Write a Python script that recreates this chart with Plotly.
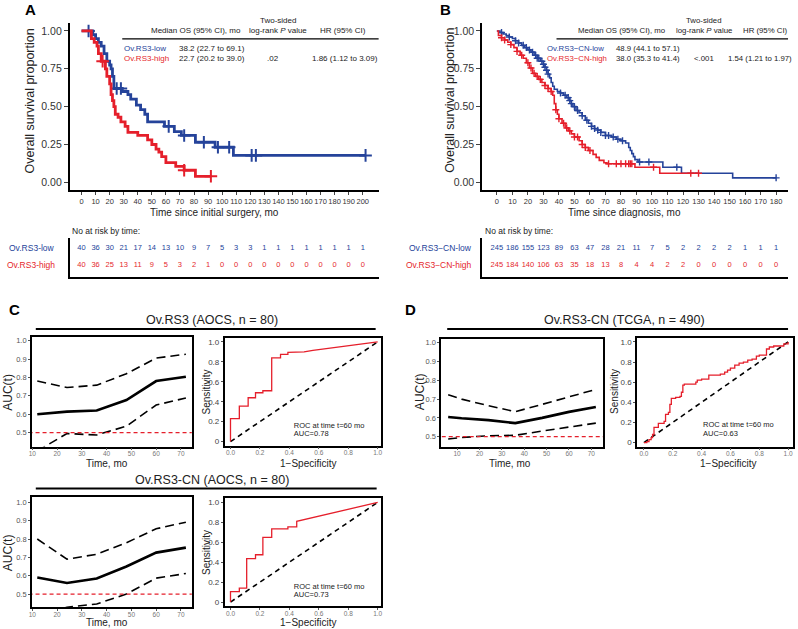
import plotly.graph_objects as go

W, H = 798, 629
BLUE = "#25439a"
RED = "#e51f2b"
FONT = "Liberation Sans, Arial, sans-serif"

# ---- Panel A: Kaplan-Meier, Ov.RS3 (AOCS) ----
A_LOW_T = [0, 8, 10, 12, 14, 16, 18, 20, 21, 22, 23, 29, 33, 35, 39, 42, 45, 47, 59, 66, 71, 81, 95, 108, 202]
A_LOW_S = [1.0, 0.975, 0.95, 0.925, 0.90, 0.85, 0.80, 0.775, 0.75, 0.70, 0.62, 0.60, 0.58, 0.55, 0.51,
           0.48, 0.45, 0.40, 0.37, 0.335, 0.31, 0.265, 0.232, 0.178, 0.178]
A_LOW_CENSOR = [5, 25, 28, 62, 73, 87, 97, 105, 121, 124, 202]
A_HIGH_T = [0, 7, 9, 11, 12, 14, 17, 18, 20, 21, 22, 23, 24, 26, 28, 31, 33, 40, 47, 50, 53, 55, 57, 60,
            67, 73, 81, 92]
A_HIGH_S = [1.0, 0.95, 0.925, 0.90, 0.85, 0.80, 0.75, 0.70, 0.65, 0.58, 0.54, 0.50, 0.45, 0.43, 0.40,
            0.37, 0.33, 0.31, 0.28, 0.25, 0.22, 0.20, 0.17, 0.13, 0.105, 0.08, 0.04, 0.04]
A_HIGH_CENSOR = [15, 73, 92]
A_RISK_T = list(range(0, 201, 10))
A_RISK_LOW = [40, 36, 30, 21, 17, 14, 13, 10, 9, 7, 5, 3, 3, 1, 1, 1, 1, 1, 1, 1, 1]
A_RISK_HIGH = [40, 36, 25, 13, 11, 9, 5, 3, 2, 1, 0, 0, 0, 0, 0, 0, 0, 0, 0, 0, 0]

# ---- Panel B: Kaplan-Meier, Ov.RS3-CN (TCGA) ----
B_LOW_T = [0, 2, 4, 6, 8, 10, 12, 14, 16, 18, 20, 22, 24, 26, 28, 30, 31, 32, 33, 34, 35, 36, 37, 39,
           41, 43, 45, 47, 48, 49, 51, 53, 55, 57, 59, 61, 63, 65, 67, 70, 74, 77, 80, 83, 85, 86, 87,
           88, 89, 91, 107, 119, 152, 180]
B_LOW_S = [1.0, 0.99, 0.98, 0.97, 0.96, 0.95, 0.935, 0.92, 0.905, 0.89, 0.875, 0.86, 0.84, 0.82, 0.80,
           0.78, 0.76, 0.74, 0.715, 0.69, 0.66, 0.635, 0.615, 0.60, 0.59, 0.575, 0.56, 0.54, 0.52, 0.50,
           0.475, 0.46, 0.44, 0.41, 0.39, 0.37, 0.355, 0.345, 0.33, 0.31, 0.30, 0.285, 0.275, 0.26,
           0.23, 0.21, 0.19, 0.17, 0.15, 0.135, 0.10, 0.06, 0.03, 0.03]
B_LOW_CENSOR = [3, 8, 12, 14, 17, 19, 21, 23, 25, 26, 27, 29, 30, 31, 32, 33, 41, 44, 46, 47, 48, 50,
                52, 55, 58, 61, 63, 65, 67, 70, 72, 75, 78, 81, 92, 98, 116, 180]
B_HIGH_T = [0, 1, 3, 5, 7, 9, 11, 13, 15, 17, 19, 21, 23, 25, 27, 29, 31, 33, 35, 36, 37, 38, 39, 40,
            42, 44, 46, 48, 50, 53, 55, 57, 59, 62, 64, 66, 69, 71, 89, 105, 130]
B_HIGH_S = [1.0, 0.97, 0.955, 0.94, 0.925, 0.91, 0.89, 0.865, 0.84, 0.82, 0.79, 0.755, 0.72, 0.70,
            0.68, 0.66, 0.64, 0.62, 0.60, 0.575, 0.52, 0.48, 0.45, 0.42, 0.39, 0.36, 0.34, 0.32, 0.30,
            0.275, 0.25, 0.23, 0.21, 0.185, 0.165, 0.145, 0.13, 0.123, 0.10, 0.06, 0.06]
B_HIGH_CENSOR = [3, 5, 9, 13, 16, 20, 22, 24, 26, 28, 31, 33, 35, 38, 40, 43, 45, 47, 50, 52, 55, 57,
                 60, 72, 77, 80, 83, 85, 86, 87, 101, 125, 130]
B_RISK_T = list(range(0, 181, 10))
B_RISK_LOW = [245, 186, 155, 123, 89, 63, 47, 28, 21, 11, 7, 5, 2, 2, 2, 2, 1, 1, 1]
B_RISK_HIGH = [245, 184, 140, 106, 63, 35, 18, 13, 8, 4, 4, 2, 2, 0, 0, 0, 0, 0, 0]

# ---- Panels C/D: time-dependent AUC and ROC at 60 mo ----
C1_T = [12, 24, 36, 48, 60, 72]
C1_AUC = [0.60, 0.614, 0.62, 0.677, 0.78, 0.804]
C1_UP = [0.78, 0.745, 0.758, 0.82, 0.905, 0.926]
C1_LO = [0.40, 0.495, 0.487, 0.535, 0.65, 0.688]
C1_FPR = [0, 0, 0.06, 0.06, 0.12, 0.12, 0.17, 0.17, 0.22, 0.22, 0.28, 0.28, 0.34, 0.34, 0.39, 0.39, 0.5, 0.56, 1.0]
C1_TPR = [0, 0.23, 0.23, 0.355, 0.355, 0.44, 0.44, 0.49, 0.49, 0.51, 0.51, 0.84, 0.84, 0.875, 0.875, 0.895, 0.90, 0.915, 1.0]

C2_T = [12, 24, 36, 48, 60, 72]
C2_AUC = [0.59, 0.56, 0.585, 0.65, 0.726, 0.753]
C2_UP = [0.80, 0.69, 0.717, 0.78, 0.856, 0.892]
C2_LO = [0.38, 0.428, 0.446, 0.50, 0.587, 0.612]
C2_FPR = [0, 0, 0.06, 0.06, 0.11, 0.11, 0.17, 0.17, 0.22, 0.22, 0.28, 0.28, 0.39, 0.39, 0.45, 0.45, 1.0]
C2_TPR = [0, 0.105, 0.105, 0.14, 0.14, 0.435, 0.435, 0.475, 0.475, 0.65, 0.65, 0.735, 0.735, 0.755, 0.755, 0.81, 1.0]

D_T = [6, 12, 24, 36, 48, 60, 72]
D_AUC = [0.605, 0.598, 0.588, 0.572, 0.60, 0.632, 0.658]
D_UP = [0.723, 0.70, 0.665, 0.633, 0.672, 0.712, 0.752]
D_LO = [0.487, 0.495, 0.505, 0.507, 0.53, 0.552, 0.572]
D_FPR = [0, 0.02, 0.035, 0.05, 0.06, 0.07, 0.1, 0.14, 0.15, 0.17, 0.18, 0.19, 0.22, 0.25, 0.26, 0.27, 0.28,
         0.33, 0.36, 0.37, 0.40, 0.44, 0.45, 0.50, 0.53, 0.56, 0.58, 0.60, 0.63, 0.66, 0.69, 0.72, 0.75,
         0.78, 0.80, 0.84, 0.85, 0.87, 0.90, 0.95, 0.97, 1.0]
D_TPR = [0, 0.01, 0.03, 0.05, 0.08, 0.15, 0.19, 0.21, 0.28, 0.30, 0.38, 0.44, 0.45, 0.46, 0.50, 0.57, 0.58,
         0.58, 0.60, 0.62, 0.63, 0.63, 0.67, 0.67, 0.68, 0.70, 0.72, 0.74, 0.77, 0.79, 0.80, 0.82, 0.83,
         0.86, 0.87, 0.87, 0.93, 0.95, 0.96, 0.96, 0.98, 1.0]


def xd(left, right):
    return [left / W, right / W]


def yd(top, bottom):
    return [1 - bottom / H, 1 - top / H]


def surv_at(ts, ss, t):
    val = ss[0]
    for ti, si in zip(ts, ss):
        if ti <= t:
            val = si
    return val


fig = go.Figure()
annotations = []
shapes = []


def note(x, y, text, size=8, color="black", xanchor="center", yanchor="middle", angle=0, bold=False):
    annotations.append(dict(
        x=x / W, y=1 - y / H, xref="paper", yref="paper", text=f"<b>{text}</b>" if bold else text,
        showarrow=False, xanchor=xanchor, yanchor=yanchor, textangle=angle,
        font=dict(size=size, color=color, family=FONT),
    ))


def hline(x0, x1, y, width=1.2):
    shapes.append(dict(type="line", xref="paper", yref="paper", x0=x0 / W, x1=x1 / W,
                       y0=1 - y / H, y1=1 - y / H, line=dict(color="black", width=width)))


def km(ax, ts, ss, censor, color, width, msize, mwidth):
    xa, ya = ("x", "y") if ax == 1 else (f"x{ax}", f"y{ax}")
    fig.add_trace(go.Scatter(x=ts, y=ss, mode="lines", line=dict(color=color, width=width, shape="hv"),
                             xaxis=xa, yaxis=ya, showlegend=False, hoverinfo="skip"))
    fig.add_trace(go.Scatter(x=censor, y=[surv_at(ts, ss, t) for t in censor], mode="markers",
                             marker=dict(symbol="cross-thin", size=msize, line=dict(color=color, width=mwidth)),
                             xaxis=xa, yaxis=ya, showlegend=False, hoverinfo="skip"))


def risk(ax, ts, low, high):
    for vals, yv, color in ((low, 0.74, BLUE), (high, 0.31, RED)):
        fig.add_trace(go.Scatter(x=ts, y=[yv] * len(ts), text=[str(v) for v in vals], mode="text",
                                 textfont=dict(size=7.5, color=color, family=FONT),
                                 xaxis=f"x{ax}", yaxis=f"y{ax}", showlegend=False, hoverinfo="skip"))


def auc_plot(ax, t, auc, up, lo):
    for vals, w, dash in ((auc, 2.6, "solid"), (up, 1.6, "9px,5px"), (lo, 1.6, "9px,5px")):
        fig.add_trace(go.Scatter(x=t, y=vals, mode="lines", line=dict(color="black", width=w, dash=dash),
                                 xaxis=f"x{ax}", yaxis=f"y{ax}", showlegend=False, hoverinfo="skip"))
    fig.add_trace(go.Scatter(x=[0, 80], y=[0.5, 0.5], mode="lines",
                             line=dict(color=RED, width=1.2, dash="4px,3px"),
                             xaxis=f"x{ax}", yaxis=f"y{ax}", showlegend=False, hoverinfo="skip"))


def roc_plot(ax, fpr, tpr, shape, auc_text, tx, ty):
    fig.add_trace(go.Scatter(x=[0, 1], y=[0, 1], mode="lines",
                             line=dict(color="black", width=1.6, dash="5px,4px"),
                             xaxis=f"x{ax}", yaxis=f"y{ax}", showlegend=False, hoverinfo="skip"))
    fig.add_trace(go.Scatter(x=fpr, y=tpr, mode="lines", line=dict(color=RED, width=1.3, shape=shape),
                             xaxis=f"x{ax}", yaxis=f"y{ax}", showlegend=False, hoverinfo="skip"))
    fig.add_trace(go.Scatter(x=[tx, tx], y=[ty, ty - 0.085], text=["ROC at time t=60 mo", auc_text],
                             mode="text", textposition="middle right",
                             textfont=dict(size=7.5, color="#222", family=FONT),
                             xaxis=f"x{ax}", yaxis=f"y{ax}", showlegend=False, hoverinfo="skip"))


# Panel A
km(1, A_LOW_T, A_LOW_S, A_LOW_CENSOR, BLUE, 2.8, 9, 2)
km(1, A_HIGH_T, A_HIGH_S, A_HIGH_CENSOR, RED, 2.8, 9, 2)
risk(2, A_RISK_T, A_RISK_LOW, A_RISK_HIGH)
# Panel B
km(3, B_LOW_T, B_LOW_S, B_LOW_CENSOR, BLUE, 1.6, 5, 1.4)
km(3, B_HIGH_T, B_HIGH_S, B_HIGH_CENSOR, RED, 1.6, 5, 1.4)
risk(4, B_RISK_T, B_RISK_LOW, B_RISK_HIGH)
# Panels C and D
auc_plot(5, C1_T, C1_AUC, C1_UP, C1_LO)
roc_plot(6, C1_FPR, C1_TPR, "linear", "AUC=0.78", 0.43, 0.155)
auc_plot(7, C2_T, C2_AUC, C2_UP, C2_LO)
roc_plot(8, C2_FPR, C2_TPR, "linear", "AUC=0.73", 0.43, 0.155)
auc_plot(9, D_T, D_AUC, D_UP, D_LO)
roc_plot(10, D_FPR, D_TPR, "hv", "AUC=0.63", 0.41, 0.17)

km_x = dict(ticks="outside", ticklen=3, tickwidth=1, showline=True, linecolor="black", linewidth=1.5,
            showgrid=False, zeroline=False, tickangle=0,
            tickfont=dict(size=7.5, color="#333", family=FONT))
km_y = dict(ticks="outside", ticklen=4, tickwidth=1, showline=True, linecolor="black", linewidth=1.5,
            showgrid=False, zeroline=False, tickvals=[0, 0.25, 0.5, 0.75, 1.0],
            ticktext=["0.00", "0.25", "0.50", "0.75", "1.00"],
            tickfont=dict(size=10.5, color="#333", family=FONT))
risk_x = dict(showline=True, linecolor="black", linewidth=1.5, showgrid=False, zeroline=False,
              showticklabels=False, ticks="")
risk_y = dict(showline=True, linecolor="black", linewidth=1.5, showgrid=False, zeroline=False,
              showticklabels=False, ticks="", range=[0, 1])
box = dict(showline=True, mirror=True, linecolor="black", linewidth=1.5, showgrid=False, zeroline=False,
           ticks="outside", ticklen=2, tickwidth=1, tickcolor="#555", tickangle=0)
small = dict(size=6.5, color="#777", family=FONT)
roc_ytick = dict(tickvals=[0, 0.2, 0.4, 0.6, 0.8, 1.0], ticktext=["0", "0.2", "0.4", "0.6", "0.8", "1.0"],
                 tickfont=dict(size=8, color="#444", family=FONT), range=[-0.04, 1.04])
roc_xtick = dict(tickvals=[0, 0.2, 0.4, 0.6, 0.8, 1.0], ticktext=["0.0", "0.2", "0.4", "0.6", "0.8", "1.0"],
                 tickfont=small, ticklabelstandoff=-2)
auc_ytick = dict(tickvals=[0.5, 0.6, 0.7, 0.8, 0.9, 1.0], tickfont=dict(size=7.5, color="#555", family=FONT),
                 tickformat=".1f")
auc_xtick = dict(tickvals=[10, 20, 30, 40, 50, 60, 70], tickfont=small, ticklabelstandoff=-2)

fig.update_layout(
    width=W, height=H, margin=dict(l=0, r=0, t=0, b=0),
    paper_bgcolor="white", plot_bgcolor="white", font=dict(family=FONT),
    xaxis=dict(domain=xd(67, 378), range=[-8.5, 211.3], tickvals=A_RISK_T, anchor="y", **km_x),
    yaxis=dict(domain=yd(22, 190), range=[-0.053, 1.053], anchor="x", **km_y),
    xaxis2=dict(domain=xd(67, 378), range=[-8.5, 211.3], anchor="y2", **risk_x),
    yaxis2=dict(domain=yd(238, 277), anchor="x2", **risk_y),
    xaxis3=dict(domain=xd(482, 790), range=[-9.6, 187.7], tickvals=B_RISK_T, anchor="y3", **km_x),
    yaxis3=dict(domain=yd(22, 190), range=[-0.053, 1.053], anchor="x3", **km_y),
    xaxis4=dict(domain=xd(482, 790), range=[-9.6, 187.7], anchor="y4", **risk_x),
    yaxis4=dict(domain=yd(238, 277), anchor="x4", **risk_y),
    xaxis5=dict(domain=xd(29, 190), range=[9.8, 74.4], anchor="y5", **auc_xtick, **box),
    yaxis5=dict(domain=yd(337, 447), range=[0.424, 1.02], anchor="x5", **auc_ytick, **box),
    xaxis6=dict(domain=xd(223, 380), range=[-0.04, 1.02], anchor="y6", **roc_xtick, **box),
    yaxis6=dict(domain=yd(338, 446), anchor="x6", **roc_ytick, **box),
    xaxis7=dict(domain=xd(29, 190), range=[9.8, 74.4], anchor="y7", **auc_xtick, **box),
    yaxis7=dict(domain=yd(498, 608), range=[0.429, 1.027], anchor="x7", **auc_ytick, **box),
    xaxis8=dict(domain=xd(223, 380), range=[-0.04, 1.02], anchor="y8", **roc_xtick, **box),
    yaxis8=dict(domain=yd(499, 607), anchor="x8", **roc_ytick, **box),
    xaxis9=dict(domain=xd(441, 604), range=[2.9, 75.3], anchor="y9", **auc_xtick, **box),
    yaxis9=dict(domain=yd(339, 447), range=[0.447, 1.021], anchor="x9", **auc_ytick, **box),
    xaxis10=dict(domain=xd(638, 795), range=[-0.048, 1.034], anchor="y10", **roc_xtick, **box),
    yaxis10=dict(domain=yd(338, 447), anchor="x10", **roc_ytick, **box),
)

# Panel letters
note(28, 9, "A", size=15, bold=True)
note(445, 9, "B", size=15, bold=True)
note(12, 309, "C", size=15, bold=True)
note(410, 309, "D", size=15, bold=True)

# Panel A texts
note(27, 100, "Overall survival proportion", size=12.5, color="#222", angle=-90)
note(213, 212, "Time since initial surgery, mo", size=10, color="#222")
note(277, 20, "Two-sided", size=8, color="#222")
note(194, 30, "Median OS (95% CI), mo", size=8, color="#222")
note(277, 30, "log-rank <i>P</i> value", size=8, color="#222")
note(342, 30, "HR (95% CI)", size=8, color="#222")
hline(120, 378, 38)
note(120, 48, "Ov.RS3-low", size=8, color=BLUE, xanchor="left")
note(175, 48, "38.2 (22.7 to 69.1)", size=8, color="#222", xanchor="left")
note(120, 58, "Ov.RS3-high", size=8, color=RED, xanchor="left")
note(175, 58, "22.7 (20.2 to 39.0)", size=8, color="#222", xanchor="left")
note(272, 58, ".02", size=8, color="#222")
note(344, 58, "1.86 (1.12 to 3.09)", size=8, color="#222")
note(67, 231, "No at risk by time:", size=8.5, color="#222", xanchor="left")
note(54, 248, "Ov.RS3-low", size=8.5, color=BLUE, xanchor="right")
note(54, 265, "Ov.RS3-high", size=8.5, color=RED, xanchor="right")

# Panel B texts
note(450, 100, "Overall survival proportion", size=12.5, color="#222", angle=-90)
note(625, 212, "Time since diagnosis, mo", size=10, color="#222")
note(705, 20, "Two-sided", size=7.8, color="#222")
note(623, 30, "Median OS (95% CI), mo", size=7.8, color="#222")
note(705, 30, "log-rank <i>P</i> value", size=7.8, color="#222")
note(767, 30, "HR (95% CI)", size=7.8, color="#222")
hline(557, 790, 38)
note(545, 48, "Ov.RS3\u2212CN-low", size=7.8, color=BLUE, xanchor="left")
note(615, 48, "48.9 (44.1 to 57.1)", size=7.8, color="#222", xanchor="left")
note(545, 58, "Ov.RS3\u2212CN-high", size=7.8, color=RED, xanchor="left")
note(615, 58, "38.0 (35.3 to 41.4)", size=7.8, color="#222", xanchor="left")
note(705, 58, "<.001", size=7.8, color="#222")
note(728, 58, "1.54 (1.21 to 1.97)", size=7.8, color="#222", xanchor="left")
note(483, 231, "No at risk by time:", size=8.5, color="#222", xanchor="left")
note(474, 248, "Ov.RS3\u2212CN-low", size=8.5, color=BLUE, xanchor="right")
note(474, 265, "Ov.RS3\u2212CN-high", size=8.5, color=RED, xanchor="right")

# Panel C texts
note(210, 320, "Ov.RS3 (AOCS, n = 80)", size=12.5, color="#222")
hline(33, 375, 329, width=2)
note(5, 392, "AUC(t)", size=12, color="#222", angle=-90)
note(105, 464, "Time, mo", size=10, color="#222")
note(205, 392, "Sensitivity", size=10, color="#222", angle=-90)
note(307, 464, "1\u2212Specificity", size=10, color="#222")
note(210, 481, "Ov.RS3-CN (AOCS, n = 80)", size=12.5, color="#222")
hline(33, 376, 489, width=2)
note(5, 553, "AUC(t)", size=12, color="#222", angle=-90)
note(105, 623, "Time, mo", size=10, color="#222")
note(205, 553, "Sensitivity", size=10, color="#222", angle=-90)
note(307, 623, "1\u2212Specificity", size=10, color="#222")

# Panel D texts
note(625, 320, "Ov.RS3-CN (TCGA, n = 490)", size=12.5, color="#222")
hline(447, 790, 329, width=2)
note(419, 392, "AUC(t)", size=12, color="#222", angle=-90)
note(510, 464, "Time, mo", size=10, color="#222")
note(616, 392, "Sensitivity", size=10, color="#222", angle=-90)
note(730, 464, "1\u2212Specificity", size=10, color="#222")

fig.update_layout(annotations=annotations, shapes=shapes)
# the page body has a default margin; drop it so the figure sits at the window's corner
fig.write_html("out.html", config={"displayModeBar": False},
               post_script="document.body.style.margin='0';document.body.style.overflow='hidden';")
